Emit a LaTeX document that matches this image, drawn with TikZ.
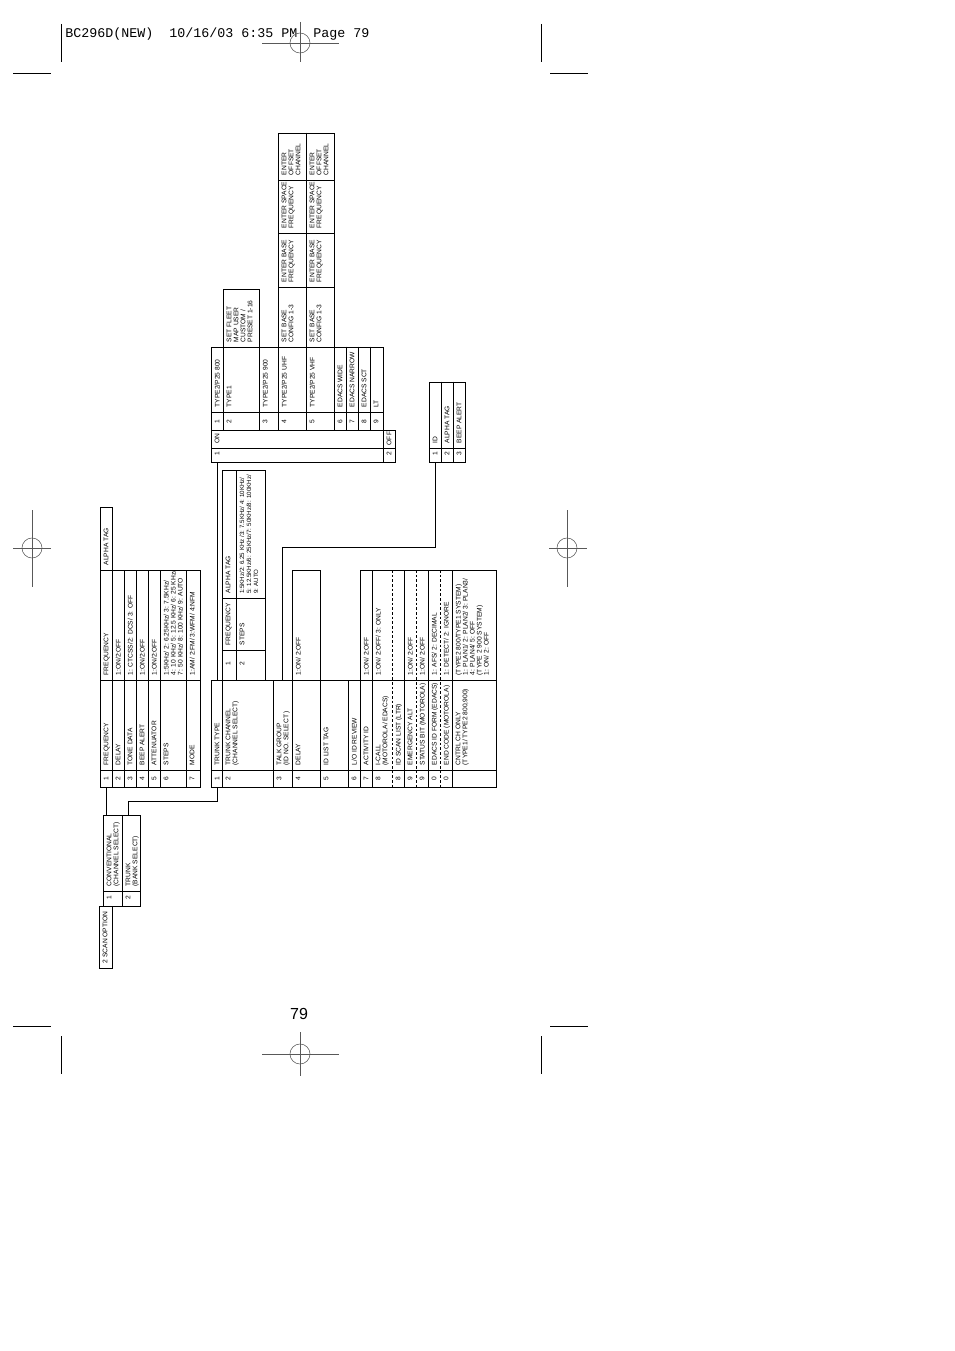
\documentclass[tikz,border=0pt]{standalone}
\usepackage{fontspec}
\setmainfont{Liberation Sans}
\newfontfamily\hdrfont{Liberation Mono}
\newcommand\cellfont{\fontsize{5}{5.25}\selectfont}
\newcommand\smallcellfont{\fontsize{4.6}{5.25}\selectfont}
\newcounter{tn}
\newcommand\ct[3]{\stepcounter{tn}\node[tx] (t\arabic{tn}) at ({#1+3.5},{#2-4.5}) {#3};}
\newcommand\cn[3]{\stepcounter{tn}\node[tx] (t\arabic{tn}) at ({#1+3.5},{#2-6}) {#3};}
\begin{document}
\begin{tikzpicture}[x=0.75pt,y=-0.75pt,
  ln/.style={line width=0.7pt, line cap=rect},
  dl/.style={line width=0.7pt, dash pattern=on 2pt off 1.5pt},
  cl/.style={line width=0.7pt},
  crop/.style={line width=0.6pt},
  reg/.style={line width=0.4pt, draw=black!65},
  tx/.style={rotate=90, anchor=north west, inner sep=0pt, font=\cellfont, align=left}]
\fill[white] (0,0) rectangle (954,1351);
\useasboundingbox (0,0) rectangle (954,1351);

% ---------- header, crop and registration marks ----------
\node[anchor=base west, inner sep=0pt, font=\hdrfont\fontsize{10}{12}\selectfont] (hdr) at (65,38) {BC296D(NEW)\ \ 10/16/03 6:35 PM\ \ Page 79};
\draw[crop] (61,24) -- (61,62);   \draw[crop] (13,73) -- (51,73);
\draw[crop] (541,24) -- (541,62); \draw[crop] (550,73) -- (588,73);
\draw[crop] (61,1036) -- (61,1074);   \draw[crop] (13,1026) -- (51,1026);
\draw[crop] (541,1036) -- (541,1074); \draw[crop] (550,1026) -- (588,1026);
\draw[reg] (300,22) -- (300,62); \draw[reg] (262,43) -- (339,43); \draw[reg] (300,43) circle[radius=10];
\draw[reg] (300,1032) -- (300,1076); \draw[reg] (262,1054) -- (339,1054); \draw[reg] (300,1054) circle[radius=10];
\draw[reg] (32,510) -- (32,587); \draw[reg] (13,548) -- (51,548); \draw[reg] (32,548) circle[radius=10];
\draw[reg] (567,510) -- (567,587); \draw[reg] (549,548) -- (587,548); \draw[reg] (567,548) circle[radius=10];
\node[anchor=base, inner sep=0pt, font=\fontsize{12}{14}\selectfont] (pg) at (299,1019) {79};

% ---------- scan option ----------
\draw[ln] (99,906) rectangle (112,968);
\draw[ln] (103,815) rectangle (140,906);
\draw[ln] (122,815) -- (122,906);
\draw[ln] (103,891) -- (140,891);
\ct{99}{968}{2 SCAN OPTION}
\cn{103}{906}{1} \ct{103}{891}{CONVENTIONAL\\(CHANNEL SELECT)}
\cn{122}{906}{2} \ct{122}{891}{TRUNK\\(BANK SELECT)}

% ---------- conventional table ----------
\draw[ln] (100,507) -- (112,507) -- (112,570) -- (200,570) -- (200,787) -- (100,787) -- cycle;
\foreach \x in {112,124,136,148,160,186} \draw[ln] (\x,570) -- (\x,787);
\draw[ln] (100,570) -- (112,570);
\draw[ln] (100,680) -- (200,680);
\draw[ln] (100,770) -- (200,770);
\cn{100}{787}{1} \ct{100}{770}{FREQUENCY} \ct{100}{680}{FREQUENCY} \ct{100}{570}{ALPHA TAG}
\cn{112}{787}{2} \ct{112}{770}{DELAY} \ct{112}{680}{1:ON/2:OFF}
\cn{124}{787}{3} \ct{124}{770}{TONE DATA} \ct{124}{680}{1: CTCSS/2: DCS/ 3: OFF}
\cn{136}{787}{4} \ct{136}{770}{BEEP ALERT} \ct{136}{680}{1:ON/2:OFF}
\cn{148}{787}{5} \ct{148}{770}{ATTENUATOR} \ct{148}{680}{1:ON/2:OFF}
\cn{160}{787}{6} \ct{160}{770}{STEPS} \ct{160}{680}{1:5KHz/ 2: 6.25KHz/ 3: 7.5KHz/\\4: 10 KHz/ 5: 12.5 KHz/ 6: 25 KHz/\\7: 50 KHz/ 8: 100 KHz/ 9: AUTO}
\cn{186}{787}{7} \ct{186}{770}{MODE} \ct{186}{680}{1:AM/ 2:FM/ 3:WFM/ 4:NFM}

% ---------- trunk table ----------
\draw[ln] (211,680) rectangle (496,787);
\foreach \x in {222,273,292,320,348} \draw[ln] (\x,680) -- (\x,787);
\foreach \x in {360,372,404,428,452} \draw[ln] (\x,570) -- (\x,787);
\foreach \x in {392,416,440} \draw[dl] (\x,570) -- (\x,787);
\draw[ln] (211,770) -- (496,770);
\draw[ln] (292,570) rectangle (320,680);
\draw[ln] (360,570) rectangle (496,680);
\cn{211}{787}{1} \ct{211}{770}{TRUNK TYPE}
\cn{222}{787}{2} \ct{222}{770}{TRUNK CHANNEL\\(CHANNEL SELECT)}
\cn{273}{787}{3} \ct{273}{770}{TALK GROUP\\(ID NO. SELECT )}
\cn{292}{787}{4} \ct{292}{770}{DELAY} \ct{292}{680}{1:ON/ 2:OFF}
\cn{320}{787}{5} \ct{320}{770}{ID LIST TAG}
\cn{348}{787}{6} \ct{348}{770}{L/O ID REVIEW}
\cn{360}{787}{7} \ct{360}{770}{ACTIVITY ID} \ct{360}{680}{1:ON/ 2:OFF}
\cn{372}{787}{8} \ct{372}{770}{I-CALL\\(MOTOROLA/ EDACS)} \ct{372}{680}{1:ON/ 2:OFF/ 3: ONLY}
\cn{392}{787}{8} \ct{392}{770}{ID SCAN LIST (LTR)}
\cn{404}{787}{9} \ct{404}{770}{EMERGENCY ALT} \ct{404}{680}{1:ON/ 2:OFF}
\cn{416}{787}{9} \ct{416}{770}{STATUS BIT (MOTOROLA)} \ct{416}{680}{1:ON/ 2:OFF}
\cn{428}{787}{0} \ct{428}{770}{EDACS ID FORM (EDACS)} \ct{428}{680}{1: AFS/ 2: DECIMAL}
\cn{440}{787}{0} \ct{440}{770}{END CODE (MOTOROLA)} \ct{440}{680}{1: DETECT/ 2: IGNORE}
\ct{452}{770}{CNTRL CH ONLY\\(TYPE1/ TYPE2 800,900)}
\ct{452}{680}{(TYPE2 800/TYPE1 SYSTEM)\\1: PLAN1/ 2: PLAN2/ 3: PLAN3/\\4: PLAN4/ 5: OFF\\(TYPE 2 900 SYSTEM)\\1: ON/ 2: OFF}

% trunk channel sub-table
\draw[ln] (222,470) rectangle (265,680);
\draw[ln] (236,470) -- (236,680);
\draw[ln] (222,598) -- (265,598);
\draw[ln] (222,650) -- (265,650);
\cn{222}{672}{1} \ct{222}{650}{FREQUENCY} \ct{222}{598}{ALPHA TAG}
\cn{236}{672}{2} \ct{236}{650}{STEPS}
\stepcounter{tn}\node[tx, font=\smallcellfont] (t\arabic{tn}) at (239.5,594) {1:5KHz/2: 6.25 KHz /3: 7.5KHz/ 4: 10KHz/\\5: 12.5KHz/6: 25KHz/7: 50KHz/8: 100KHz/\\9: AUTO};

% ---------- ON / OFF tree ----------
\draw[ln] (211,430) rectangle (395,462);
\draw[ln] (211,448) -- (395,448);
\draw[ln] (383,430) -- (383,462);
\cn{211}{462}{1} \ct{211}{448}{ON}
\cn{383}{462}{2}
\stepcounter{tn}\node[tx] (t\arabic{tn}) at (386.5,445.5) {OFF};
\draw[ln] (211,347) rectangle (383,430);
\foreach \x in {223,259,278,306,334,346,358,370} \draw[ln] (\x,347) -- (\x,430);
\draw[ln] (211,412) -- (383,412);
\cn{211}{430}{1} \ct{211}{412}{TYPE2/P25 800}
\cn{223}{430}{2} \ct{223}{412}{TYPE1}
\cn{259}{430}{3} \ct{259}{412}{TYPE2/P25 900}
\cn{278}{430}{4} \ct{278}{412}{TYPE2/P25 UHF}
\cn{306}{430}{5} \ct{306}{412}{TYPE2/P25 VHF}
\cn{334}{430}{6} \ct{334}{412}{EDACS WIDE}
\cn{346}{430}{7} \ct{346}{412}{EDACS NARROW}
\cn{358}{430}{8} \ct{358}{412}{EDACS SCT}
\cn{370}{430}{9} \ct{370}{412}{LT}
\draw[ln] (223,289) rectangle (259,347);
\ct{223}{347}{SET FLEET\\MAP USER\\CUSTOM /\\PRESET 1-16}
\draw[ln] (278,133) rectangle (334,347);
\draw[ln] (306,133) -- (306,347);
\foreach \y in {180,233,287} \draw[ln] (278,\y) -- (334,\y);
\foreach \x in {278,306} {
  \ct{\x}{347}{SET BASE\\CONFIG 1-3}
  \ct{\x}{287}{ENTER BASE\\FREQUENCY}
  \ct{\x}{233}{ENTER SPACE\\FREQUENCY}
  \ct{\x}{180}{ENTER\\OFFSET\\CHANNEL}
}

% ---------- ID box ----------
\draw[ln] (429,382) rectangle (465,462);
\draw[ln] (441,382) -- (441,462);
\draw[ln] (453,382) -- (453,462);
\draw[ln] (429,448) -- (465,448);
\cn{429}{462}{1} \ct{429}{448}{ID}
\cn{441}{462}{2} \ct{441}{448}{ALPHA TAG}
\cn{453}{462}{3} \ct{453}{448}{BEEP ALERT}

% ---------- connectors ----------
\coordinate (convB) at (106,787);
\coordinate (scanC) at (106,815);
\coordinate (scanT) at (128,815);
\coordinate (bendA) at (128,801);
\coordinate (bendB) at (217,801);
\coordinate (trkB) at (217,787);
\coordinate (trkT1) at (217,680);
\coordinate (onB) at (217,462);
\coordinate (trkT3) at (282,680);
\coordinate (bendC) at (282,547);
\coordinate (bendD) at (435,547);
\coordinate (idB) at (435,462);
\draw[cl] (convB) -- (scanC);
\draw[cl] (scanT) -- (bendA) -- (bendB) -- (trkB);
\draw[cl] (trkT1) -- (onB);
\draw[cl] (trkT3) -- (bendC) -- (bendD) -- (idB);
\end{tikzpicture}
\end{document}
